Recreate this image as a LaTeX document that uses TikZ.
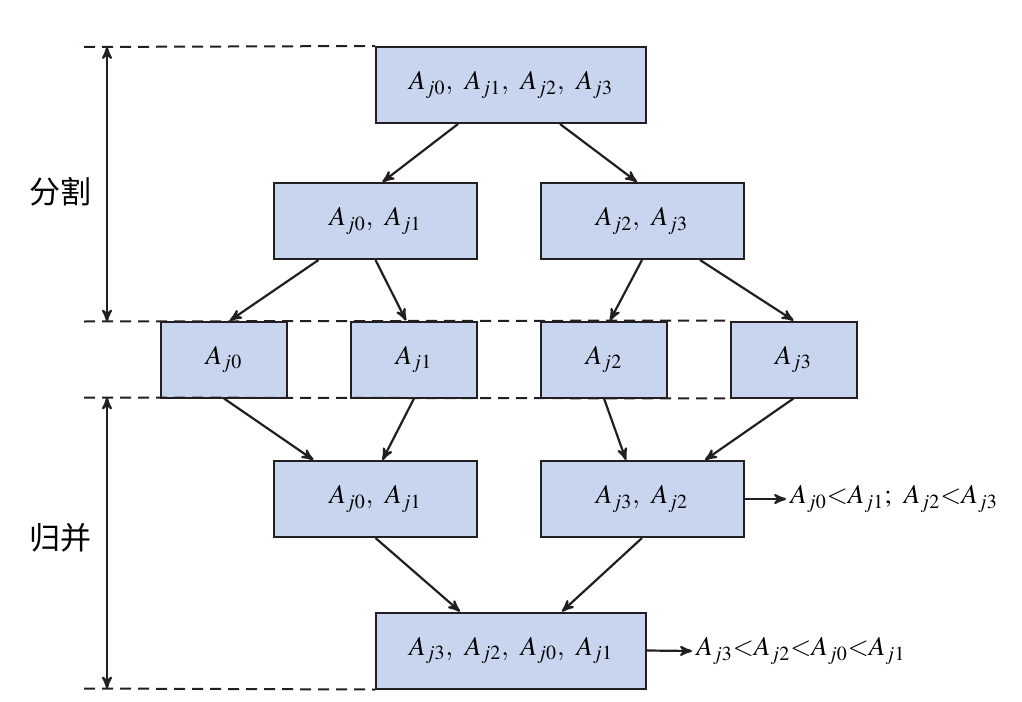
\documentclass[tikz,border=0pt]{standalone}
\usepackage{fontspec}
\usepackage{mathptmx}
\newfontfamily\cjk{Noto Sans CJK SC}
\usetikzlibrary{arrows}

\definecolor{boxblue}{RGB}{199,214,238}
\definecolor{boxline}{RGB}{35,31,32}
\newcommand{\boxfont}{\fontsize{13.5}{16}\selectfont}
\newcommand{\sidefont}{\cjk\fontsize{15.5}{18}\selectfont}

\begin{document}
\begin{tikzpicture}[x=0.5pt,y=-0.5pt,>=stealth',
        blk/.style={draw=boxline,fill=boxblue,line width=1pt,inner sep=0pt,
                    minimum height=38pt,font=\boxfont},
        wide/.style={blk,minimum width=135pt},
        half/.style={blk,minimum width=101.5pt},
        single/.style={blk,minimum width=63pt},
        arr/.style={->,color=boxline,line width=1.1pt},
        guide/.style={draw=boxline,line width=1pt,dash pattern=on 5.5pt off 3.5pt}]

  \useasboundingbox (0,0) rectangle (1022,701);

  % blocks
  \node[wide]   (all) at (511,85)    {$A_{j0},\ A_{j1},\ A_{j2},\ A_{j3}$};
  \node[half]   (s01) at (375.5,221) {$A_{j0},\ A_{j1}$};
  \node[half]   (s23) at (642,221)   {$A_{j2},\ A_{j3}$};
  \node[single] (a0)  at (224,359.5)   {$A_{j0}$};
  \node[single] (a1)  at (414,359.5)   {$A_{j1}$};
  \node[single] (a2)  at (604,359.5)   {$A_{j2}$};
  \node[single] (a3)  at (793.5,359.5) {$A_{j3}$};
  \node[half]   (m01) at (375.5,499) {$A_{j0},\ A_{j1}$};
  \node[half]   (m32) at (642,499)   {$A_{j3},\ A_{j2}$};
  \node[wide]   (res) at (511,650.5) {$A_{j3},\ A_{j2},\ A_{j0},\ A_{j1}$};

  % orderings
  \node[anchor=west,inner sep=2pt,font=\boxfont] (ord1) at (786,499)
        {$A_{j0}{<}A_{j1};\ A_{j2}{<}A_{j3}$};
  \node[anchor=west,inner sep=2pt,font=\boxfont] (ord2) at (692,651)
        {$A_{j3}{<}A_{j2}{<}A_{j0}{<}A_{j1}$};

  % guide lines
  \coordinate (g1) at (84,47);
  \coordinate (g2) at (84,321.5);
  \coordinate (g3) at (84,397.5);
  \coordinate (g4) at (84,688.5);
  \draw[guide] (g1) -- (all.north west);
  \draw[guide] (g2) -- (a3.north west);
  \draw[guide] (g3) -- (a3.south west);
  \draw[guide] (g4) -- (res.south west);

  \draw[arr,<->] ([xshift=11.5pt]g1) -- ([xshift=11.5pt]g2);
  \draw[arr,<->] ([xshift=11.5pt]g3) -- ([xshift=11.5pt]g4);
  \node[font=\sidefont] (split) at (60,192) {分割};
  \node[font=\sidefont] (merge) at (60,538) {归并};

  % arrows
  \path[arr] ([xshift=-26.5pt]all.south) edge ([xshift=3.5pt]s01.north)
             ([xshift=24.5pt]all.south)  edge ([xshift=-2.5pt]s23.north)
             ([xshift=-28.5pt]s01.south) edge ([xshift=3pt]a0.north)
             (s01.south)                 edge ([xshift=-4pt]a1.north)
             (s23.south)                 edge ([xshift=3pt]a2.north)
             ([xshift=29pt]s23.south)    edge (a3.north)
             (a0.south)                  edge ([xshift=-31pt]m01.north)
             (a1.south)                  edge ([xshift=3.5pt]m01.north)
             (a2.south)                  edge ([xshift=-8pt]m32.north)
             (a3.south)                  edge ([xshift=31.5pt]m32.north)
             (m01.south)                 edge ([xshift=-25.5pt]res.north)
             (m32.south)                 edge ([xshift=25.5pt]res.north);
  \draw[arr] (m32.east) -- (ord1.west);
  \draw[arr] (res.east) -- (ord2.west);

\end{tikzpicture}
\end{document}
